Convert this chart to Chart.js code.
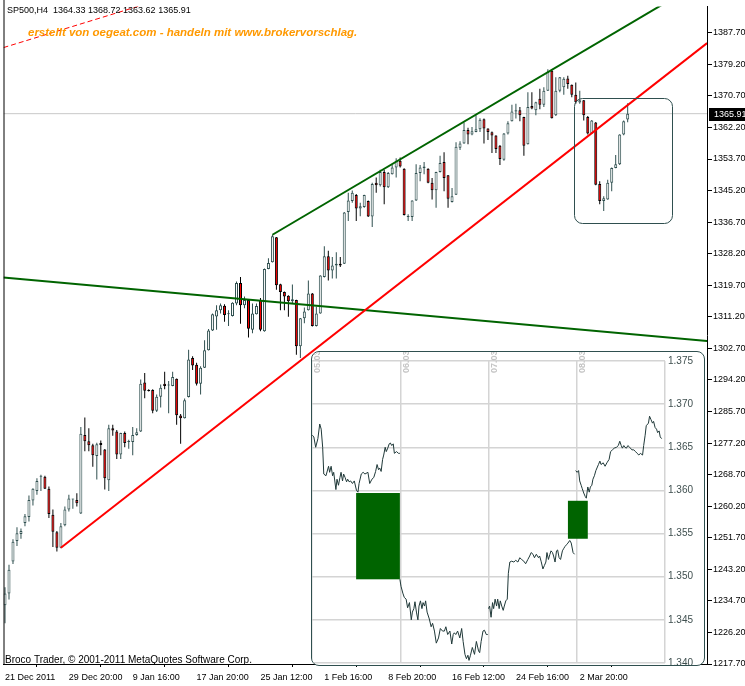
<!DOCTYPE html>
<html>
<head>
<meta charset="utf-8">
<script src="https://cdn.jsdelivr.net/npm/chart.js@4.4.1/dist/chart.umd.min.js"></script>
<style>
  html, body { margin: 0; padding: 0; background: #fff; }
  #wrap { position: relative; width: 745px; height: 686px; overflow: hidden; }
  #main { position: absolute; left: 0; top: 0; }
  #inset {
    position: absolute; left: 311px; top: 351px; width: 394px; height: 315px;
    box-sizing: border-box; border: 1px solid #2F4F4F; border-radius: 8px;
    overflow: hidden; background: #fff;
  }
  #insetCanvas { position: absolute; left: 0; top: 0; }
</style>
</head>
<body>
<div id="wrap">
  <canvas id="main" width="745" height="686"></canvas>
  <div id="inset"><canvas id="insetCanvas" width="392" height="320"></canvas></div>
</div>
<script>
// SP500 H4 candles (index 0 = 21 Dec 2011)
const opens = [1233.5,1236.7,1245.3,1250.8,1252.7,1255.7,1257.3,1261.7,1264.3,1268.1,
  1268.1,1264.9,1257.9,1253.2,1249.0,1255.1,1259.3,1262.0,1261.9,1258.2,
  1279.4,1277.7,1276.6,1273.7,1277.2,1275.5,1267.2,1281.2,1280.3,1274.1,
  1279.9,1277.5,1277.5,1279.4,1280.3,1293.5,1291.5,1291.5,1285.9,1289.7,
  1293.2,1292.7,1292.6,1294.5,1284.6,1283.9,1289.6,1300.1,1298.3,1293.2,
  1297.5,1302.2,1307.5,1311.3,1313.0,1314.2,1311.9,1311.4,1314.8,1320.3,
  1314.3,1315.7,1307.7,1311.9,1315.7,1307.3,1324.1,1325.9,1332.6,1320.0,
  1317.9,1316.9,1315.4,1315.7,1303.3,1310.8,1313.0,1317.5,1308.7,1312.1,
  1321.9,1327.5,1323.7,1325.0,1325.5,1325.5,1339.4,1342.4,1344.0,1340.4,
  1340.8,1342.4,1338.2,1347.3,1346.6,1350.2,1346.1,1349.6,1351.4,1353.2,
  1351.1,1338.1,1338.1,1342.5,1349.9,1351.3,1351.1,1347.3,1345.3,1350.2,
  1352.9,1349.3,1342.1,1344.1,1356.7,1357.9,1361.5,1360.3,1361.0,1361.7,
  1364.4,1361.9,1360.9,1360.0,1357.3,1353.5,1360.6,1363.9,1366.5,1366.8,
  1365.0,1357.7,1368.0,1366.8,1369.9,1368.3,1372.1,1377.5,1365.5,1372.1,
  1373.0,1375.4,1373.7,1371.0,1368.9,1369.5,1365.0,1360.6,1363.5,1347.0,
  1342.4,1342.8,1347.3,1351.3,1352.3,1360.3,1364.33];
const highs = [1238.4,1244.4,1251.3,1254.5,1254.2,1258.1,1263.1,1265.0,1267.7,1268.7,
  1268.4,1265.5,1259.3,1253.5,1255.7,1260.1,1263.3,1262.2,1263.7,1281.5,
  1284.1,1281.2,1277.0,1277.3,1277.9,1275.6,1282.1,1282.1,1280.7,1280.0,
  1280.3,1278.1,1281.5,1281.2,1294.3,1296.1,1291.7,1291.7,1290.3,1293.0,
  1296.4,1293.9,1296.4,1294.6,1285.0,1289.2,1302.3,1300.6,1298.8,1297.9,
  1304.9,1307.9,1312.1,1314.3,1314.8,1314.6,1313.0,1315.1,1320.7,1321.9,
  1316.7,1315.8,1314.8,1314.8,1316.3,1324.2,1327.0,1333.3,1332.7,1320.1,
  1318.0,1317.0,1319.9,1315.8,1310.9,1313.7,1321.0,1317.6,1313.9,1322.4,
  1330.2,1329.0,1327.3,1328.6,1327.3,1339.4,1344.6,1345.2,1344.3,1341.9,
  1344.1,1342.5,1347.3,1348.7,1350.8,1350.8,1350.2,1352.1,1353.9,1354.1,
  1351.2,1338.8,1342.6,1352.3,1352.1,1352.9,1351.2,1348.6,1350.3,1354.6,
  1355.5,1349.4,1345.9,1358.2,1358.5,1363.5,1362.1,1362.3,1365.5,1364.7,
  1364.6,1362.0,1361.1,1360.1,1357.5,1360.7,1363.9,1368.3,1368.6,1367.7,
  1365.1,1371.7,1371.7,1369.1,1372.6,1373.0,1377.9,1377.9,1375.7,1375.8,
  1375.7,1376.1,1373.8,1374.3,1372.1,1369.6,1365.3,1364.2,1363.7,1347.7,
  1343.7,1348.1,1351.4,1354.8,1360.4,1364.1,1368.72];
const lows = [1228.7,1235.1,1244.6,1249.5,1251.4,1254.8,1256.1,1260.4,1263.3,1264.3,
  1264.8,1257.0,1249.2,1248.0,1248.9,1254.8,1258.8,1259.5,1260.1,1258.1,
  1275.0,1275.0,1270.8,1267.4,1273.9,1264.7,1264.3,1279.2,1272.9,1272.9,
  1276.1,1275.7,1273.9,1279.2,1280.2,1289.3,1291.1,1285.2,1285.6,1286.8,
  1291.7,1285.2,1292.5,1282.1,1277.0,1283.8,1289.5,1296.9,1292.7,1290.3,
  1297.4,1302.1,1307.4,1307.7,1312.1,1309.9,1308.7,1311.3,1314.3,1309.3,
  1313.5,1305.6,1306.8,1311.8,1307.3,1307.2,1324.0,1325.8,1318.5,1313.0,
  1313.0,1311.2,1314.8,1301.0,1300.1,1309.5,1312.9,1308.6,1308.6,1312.0,
  1321.8,1321.0,1321.5,1321.5,1324.6,1325.4,1337.0,1341.9,1337.0,1338.3,
  1340.6,1338.1,1335.4,1344.6,1346.3,1341.5,1345.9,1349.5,1348.7,1351.4,
  1338.5,1337.0,1337.0,1342.4,1347.7,1349.6,1347.2,1342.8,1340.6,1350.1,
  1345.0,1340.6,1342.0,1344.0,1356.1,1357.8,1357.7,1360.1,1360.9,1361.0,
  1357.9,1358.8,1355.3,1355.3,1352.1,1353.2,1360.3,1363.8,1364.6,1363.9,
  1354.6,1357.6,1367.1,1365.5,1367.1,1367.7,1372.0,1364.6,1365.3,1371.7,
  1371.0,1372.6,1370.3,1368.6,1368.6,1364.1,1360.3,1360.5,1346.6,1341.5,
  1339.7,1342.7,1345.0,1351.2,1352.1,1360.1,1363.62];
const closes = [1236.7,1243.1,1250.6,1252.9,1253.5,1257.5,1261.9,1264.9,1267.0,1268.2,
  1264.9,1258.1,1253.3,1249.0,1254.8,1259.3,1262.3,1262.1,1261.0,1279.7,
  1277.7,1276.6,1273.9,1276.9,1276.7,1267.7,1281.2,1280.6,1274.1,1279.9,
  1277.2,1277.6,1279.4,1280.1,1293.2,1291.3,1291.2,1285.9,1289.7,1292.1,
  1292.6,1292.8,1295.0,1284.7,1283.9,1288.7,1299.7,1298.1,1293.2,1297.5,
  1302.2,1307.5,1311.9,1313.0,1314.3,1311.7,1312.0,1315.0,1320.3,1314.3,
  1315.7,1308.0,1312.1,1314.1,1307.7,1324.1,1325.7,1332.9,1319.7,1317.9,
  1316.7,1315.4,1315.9,1303.3,1310.8,1312.6,1317.5,1308.7,1312.1,1322.3,
  1327.5,1323.7,1325.0,1325.5,1325.0,1339.3,1342.5,1344.6,1340.4,1341.0,
  1344.0,1338.2,1347.0,1346.6,1350.2,1346.1,1349.9,1351.4,1353.2,1351.7,
  1338.6,1338.2,1342.5,1349.9,1351.4,1351.7,1347.3,1345.3,1350.2,1352.6,
  1348.6,1343.0,1343.7,1357.0,1357.9,1361.5,1360.3,1361.2,1361.7,1364.3,
  1361.9,1361.0,1360.0,1356.4,1353.7,1360.6,1363.3,1366.5,1366.8,1365.5,
  1357.3,1367.7,1367.3,1369.0,1368.3,1372.1,1377.2,1364.7,1372.1,1375.7,
  1375.3,1373.9,1371.0,1369.0,1369.5,1365.5,1360.6,1364.1,1346.8,1342.4,
  1343.1,1347.3,1351.3,1352.3,1360.3,1363.9,1365.91];

const symbol = 'SP500,H4';
const xTickIdx = [0, 16, 32, 48, 64, 80, 96, 112, 128, 144];
const xTickLabels = ['21 Dec 2011', '29 Dec 20:00', '9 Jan 16:00', '17 Jan 20:00', '25 Jan 12:00',
  '1 Feb 16:00', '8 Feb 20:00', '16 Feb 12:00', '24 Feb 16:00', '2 Mar 20:00'];
const yTicks = [1217.7, 1226.2, 1234.7, 1243.2, 1251.7, 1260.2, 1268.7, 1277.2, 1285.7, 1294.2,
  1302.7, 1311.2, 1319.7, 1328.2, 1336.7, 1345.2, 1353.7, 1362.2, 1370.7, 1379.2, 1387.7];

// drawn objects, in bar index / price
const channelTop = [[67, 1333.3], [175.9, 1402.4]];
const channelBottom = [[14, 1249.0], [175.9, 1384.9]];
const longLine = [[-0.4, 1321.8], [175.9, 1304.7]];
const dashLine = [[-0.4, 1383.7], [40, 1397.0]];
const zoomBox = [142.45, 167.05, 1336.4, 1370.2];

const watermark = 'erstellt von oegeat.com - handeln mit www.brokervorschlag.';
const copyright = 'Broco Trader, \u00A9 2001-2011 MetaQuotes Software Corp.';

// inset: hours since 05.03 00:00, price
const insetDay1 = [[0.1,1.3664],[0.5,1.3662],[1.0,1.3650],[1.6,1.3660],[2.1,1.3677],[2.5,1.3671],[2.9,1.3650],[3.2,1.3619],[3.8,1.3617],[4.5,1.3628],[4.8,1.3621],[5.2,1.3628],[5.6,1.3617],[5.9,1.3621],[6.5,1.3601],[6.8,1.3613],[7.2,1.3606],[7.6,1.3615],[7.9,1.3621],[8.3,1.3611],[8.6,1.3619],[9.0,1.3615],[9.4,1.3610],[9.7,1.3613],[10.1,1.3610],[10.5,1.3611],[11.0,1.3608],[11.5,1.3611],[12.1,1.3600],[12.5,1.3598],[12.8,1.3608],[13.4,1.3619],[13.9,1.3621],[14.4,1.3619],[15.2,1.3621],[15.7,1.3608],[16.3,1.3613],[16.8,1.3615],[17.3,1.3622],[17.7,1.3630],[18.1,1.3624],[18.4,1.3626],[18.8,1.3622],[19.2,1.3636],[19.5,1.3641],[19.9,1.3650],[20.2,1.3645],[20.6,1.3649],[21.0,1.3654],[21.3,1.3655],[21.7,1.3652],[22.1,1.3654],[22.4,1.3643],[23.0,1.3645],[23.5,1.3643],[23.9,1.3643]];
const insetDay2 = [[23.9,1.3497],[24.2,1.3489],[24.7,1.3481],[25.1,1.3476],[25.6,1.3474],[26.0,1.3464],[26.5,1.3470],[27.0,1.3450],[27.3,1.3459],[27.7,1.3463],[28.0,1.3471],[28.4,1.3459],[28.8,1.3450],[29.1,1.3466],[29.5,1.3472],[29.9,1.3463],[30.2,1.3470],[30.6,1.3466],[30.9,1.3472],[31.3,1.3459],[31.9,1.3451],[32.4,1.3442],[32.8,1.3446],[33.3,1.3437],[33.8,1.3423],[34.4,1.3429],[34.9,1.3440],[35.5,1.3437],[36.0,1.3437],[36.4,1.3442],[36.9,1.3433],[37.5,1.3437],[38.0,1.3422],[38.4,1.3433],[38.7,1.3435],[39.1,1.3433],[39.6,1.3437],[40.2,1.3429],[40.7,1.3440],[41.1,1.3425],[41.6,1.3410],[42.0,1.3405],[42.4,1.3409],[42.7,1.3403],[43.1,1.3409],[43.6,1.3418],[44.2,1.3410],[44.7,1.3425],[45.3,1.3414],[45.6,1.3412],[46.0,1.3425],[46.5,1.3437],[46.9,1.3438],[47.4,1.3433],[47.8,1.3433]];
const insetDay3 = [[48.0,1.3463],[48.3,1.3466],[48.7,1.3453],[49.1,1.3470],[49.4,1.3463],[49.8,1.3474],[50.2,1.3466],[50.5,1.3474],[50.9,1.3463],[51.2,1.3472],[51.6,1.3466],[52.0,1.3461],[52.3,1.3466],[52.7,1.3472],[53.1,1.3474],[53.4,1.3504],[53.8,1.3517],[54.3,1.3518],[54.9,1.3517],[55.4,1.3519],[56.0,1.3517],[56.5,1.3522],[57.0,1.3520],[57.6,1.3518],[58.1,1.3515],[58.7,1.3520],[59.2,1.3524],[59.6,1.3528],[60.1,1.3526],[60.5,1.3522],[61.0,1.3526],[61.6,1.3522],[61.9,1.3524],[62.3,1.3518],[62.8,1.3509],[63.2,1.3513],[63.6,1.3517],[63.9,1.3528],[64.3,1.3520],[64.7,1.3526],[65.0,1.3530],[65.4,1.3528],[65.7,1.3524],[66.1,1.3517],[66.5,1.3530],[66.8,1.3531],[67.2,1.3522],[67.6,1.3520],[68.1,1.3530],[68.5,1.3533],[68.8,1.3535],[69.2,1.3537],[69.6,1.3539],[70.1,1.3542],[70.5,1.3539],[71.0,1.3528],[71.4,1.3526]];
const insetDay4 = [[71.7,1.3623],[72.1,1.3621],[72.5,1.3623],[72.8,1.3611],[73.2,1.3606],[73.5,1.3602],[73.9,1.3597],[74.3,1.3593],[74.6,1.3591],[75.0,1.3604],[75.4,1.3598],[75.7,1.3604],[76.1,1.3606],[76.4,1.3613],[76.8,1.3617],[77.2,1.3623],[77.5,1.3626],[77.9,1.3630],[78.3,1.3634],[78.6,1.3630],[79.2,1.3632],[79.7,1.3628],[80.2,1.3632],[80.8,1.3636],[81.2,1.3645],[81.7,1.3647],[82.2,1.3649],[82.8,1.3650],[83.3,1.3652],[83.7,1.3657],[84.1,1.3652],[84.4,1.3649],[84.8,1.3652],[85.1,1.3650],[85.5,1.3649],[85.9,1.3652],[86.4,1.3650],[87.0,1.3647],[87.5,1.3647],[88.0,1.3645],[88.4,1.3643],[88.9,1.3641],[89.3,1.3643],[89.9,1.3641],[90.2,1.3652],[90.6,1.3664],[90.9,1.3675],[91.5,1.3678],[91.8,1.3686],[92.2,1.3682],[92.6,1.3678],[92.9,1.3680],[93.3,1.3673],[93.7,1.3671],[94.0,1.3667],[94.4,1.3669],[94.7,1.3662],[95.1,1.3660]];
const insetGaps = [[12.0, 23.9, 1.3497, 1.3597], [69.6, 75.0, 1.3544, 1.3588]];
const insetDayLabels = ['05.03', '06.03', '07.03', '08.03'];
const insetDayStarts = [0, 24, 48, 72, 96];
const insetYTicks = [1.340, 1.345, 1.350, 1.355, 1.360, 1.365, 1.370, 1.375];

const FONT = "'Liberation Sans', Arial, sans-serif";
const SLATE = '#2F4F4F';
const xMin = -0.375, xMax = 175.875;

const idx = opens.map((_, i) => i);
const bull = idx.map(i => closes[i] >= opens[i]);
const last = opens.length - 1;
const pts = arr => arr.map(p => ({x: p[0], y: p[1]}));

function roundRectPath(ctx, x, y, w, h, r) {
  ctx.beginPath();
  ctx.moveTo(x + r, y);
  ctx.arcTo(x + w, y, x + w, y + h, r);
  ctx.arcTo(x + w, y + h, x, y + h, r);
  ctx.arcTo(x, y + h, x, y, r);
  ctx.arcTo(x, y, x + w, y, r);
  ctx.closePath();
}

const overlay = {
  id: 'overlay',
  afterDatasetsDraw(chart) {
    const {ctx, chartArea: a, scales: {x, y}} = chart;
    ctx.save();
    // box round the last swing
    const bx0 = Math.round(x.getPixelForValue(zoomBox[0])) + 0.5;
    const bx1 = Math.round(x.getPixelForValue(zoomBox[1])) + 0.5;
    const by0 = Math.round(y.getPixelForValue(zoomBox[3])) + 0.5;
    const by1 = Math.round(y.getPixelForValue(zoomBox[2])) + 0.5;
    ctx.strokeStyle = SLATE;
    ctx.lineWidth = 1;
    roundRectPath(ctx, bx0, by0, bx1 - bx0, by1 - by0, 8);
    ctx.stroke();
    // left frame
    ctx.strokeStyle = '#000';
    ctx.beginPath();
    ctx.moveTo(a.left + 0.5, 0);
    ctx.lineTo(a.left + 0.5, a.bottom);
    ctx.stroke();
    // texts
    ctx.textBaseline = 'middle';
    ctx.textAlign = 'left';
    ctx.fillStyle = '#000';
    ctx.font = '9px ' + FONT;
    const ohlc = [opens[last], highs[last], lows[last], closes[last]].map(v => v.toFixed(2)).join(' ');
    ctx.fillText(symbol + '  ' + ohlc, 7, 11);
    ctx.font = '10px ' + FONT;
    ctx.fillText(copyright, 5, 660);
    ctx.fillStyle = '#FF9900';
    ctx.font = 'italic bold 11.5px ' + FONT;
    ctx.fillText(watermark, 28, 33);
    ctx.restore();
  },
  afterDraw(chart) {
    const {ctx, chartArea: a, scales: {y}} = chart;
    const py = y.getPixelForValue(closes[last]);
    ctx.save();
    ctx.fillStyle = '#000';
    ctx.fillRect(a.right + 2, Math.round(py) - 6, 745 - a.right - 2, 13);
    ctx.fillStyle = '#fff';
    ctx.font = '9px ' + FONT;
    ctx.textBaseline = 'middle';
    ctx.textAlign = 'left';
    ctx.fillText(closes[last].toFixed(2), a.right + 7, Math.round(py) + 0.5);
    ctx.restore();
  }
};

new Chart(document.getElementById('main'), {
  type: 'bar',
  data: {
    datasets: [
      {type: 'line', data: pts(dashLine), borderColor: '#FF0000', borderWidth: 1, borderDash: [5, 3], pointRadius: 0, order: 0},
      {type: 'line', data: pts(channelTop), borderColor: '#006400', borderWidth: 2, pointRadius: 0, order: 0},
      {type: 'line', data: pts(channelBottom), borderColor: '#FF0000', borderWidth: 2, pointRadius: 0, order: 0},
      {type: 'line', data: pts(longLine), borderColor: '#006400', borderWidth: 2, pointRadius: 0, order: 0},
      {
        data: idx.map(i => ({x: i, y: [opens[i], closes[i]]})),
        backgroundColor: idx.map(i => bull[i] ? '#FFFFFF' : '#FF0000'),
        borderColor: idx.map(i => bull[i] ? SLATE : '#000000'),
        borderWidth: 1, borderSkipped: false, barThickness: 3, minBarLength: 1,
        grouped: false, inflateAmount: 0, order: 1
      },
      {
        data: idx.map(i => ({x: i, y: [lows[i], highs[i]]})),
        backgroundColor: idx.map(i => bull[i] ? SLATE : '#000000'),
        borderWidth: 0, barThickness: 1, grouped: false, inflateAmount: 0, order: 2
      },
      {type: 'line', data: [{x: xMin, y: closes[last]}, {x: xMax, y: closes[last]}], borderColor: '#C8C8C8', borderWidth: 1, pointRadius: 0, order: 3}
    ]
  },
  options: {
    responsive: false,
    animation: false,
    devicePixelRatio: 1,
    layout: {padding: {left: 2, top: 0, right: 0, bottom: 0}},
    plugins: {legend: {display: false}, tooltip: {enabled: false}},
    scales: {
      x: {
        type: 'linear', min: xMin, max: xMax, offset: false,
        grid: {display: true, drawOnChartArea: false, drawTicks: true, tickLength: 3, color: '#000'},
        border: {display: true, color: '#000', width: 1},
        ticks: {
          align: 'start', maxRotation: 0, autoSkip: false, padding: 5, color: '#000',
          font: {family: FONT, size: 9},
          callback: (v, i) => xTickLabels[i]
        },
        afterBuildTicks: s => { s.ticks = xTickIdx.map(v => ({value: v})); },
        afterFit: s => { s.height = 22; }
      },
      y: {
        type: 'linear', position: 'right', min: 1217.7, max: 1394.8, beginAtZero: false,
        grid: {display: true, drawOnChartArea: false, drawTicks: true, tickLength: 5, color: '#000'},
        border: {display: true, color: '#000', width: 1},
        ticks: {
          autoSkip: false, padding: 1, color: '#000',
          font: {family: FONT, size: 9},
          callback: v => v.toFixed(2)
        },
        afterBuildTicks: s => { s.ticks = yTicks.map(v => ({value: v})); },
        afterFit: s => { s.width = 38; }
      }
    }
  },
  plugins: [overlay]
});

const insetMarks = {
  id: 'insetMarks',
  beforeDatasetsDraw(chart) {
    const {ctx, scales: {x, y}} = chart;
    ctx.save();
    ctx.fillStyle = '#006400';
    insetGaps.forEach(g => {
      const x0 = x.getPixelForValue(g[0]), x1 = x.getPixelForValue(g[1]);
      const y0 = y.getPixelForValue(g[3]), y1 = y.getPixelForValue(g[2]);
      ctx.fillRect(x0, y0, x1 - x0, y1 - y0);
    });
    ctx.fillStyle = '#C4C4C4';
    ctx.font = 'bold 9px ' + FONT;
    ctx.textAlign = 'left';
    ctx.textBaseline = 'middle';
    insetDayLabels.forEach((t, i) => {
      ctx.save();
      ctx.translate(x.getPixelForValue(insetDayStarts[i]) + 6, 21);
      ctx.rotate(-Math.PI / 2);
      ctx.fillText(t, 0, 0);
      ctx.restore();
    });
    ctx.restore();
  }
};

new Chart(document.getElementById('insetCanvas'), {
  type: 'line',
  data: {
    datasets: [insetDay1, insetDay2, insetDay3, insetDay4].map(d => ({
      data: pts(d), borderColor: '#1F3838', borderWidth: 1, pointRadius: 0, tension: 0
    }))
  },
  options: {
    responsive: false,
    animation: false,
    devicePixelRatio: 1,
    layout: {padding: {left: 0, top: 0, right: 0, bottom: 6}},
    plugins: {legend: {display: false}, tooltip: {enabled: false}},
    scales: {
      x: {
        type: 'linear', min: 0, max: 96,
        grid: {color: '#D4D4D4', lineWidth: 1.5, drawTicks: false},
        border: {display: false},
        ticks: {display: false},
        afterBuildTicks: s => { s.ticks = insetDayStarts.map(v => ({value: v})); },
        afterFit: s => { s.height = 0; }
      },
      y: {
        type: 'linear', position: 'right', min: 1.340, max: 1.375,
        grid: {color: '#D4D4D4', lineWidth: 1.5, drawTicks: false},
        border: {display: false},
        ticks: {padding: 3, color: '#3F4F4F', font: {family: FONT, size: 10}, callback: v => v.toFixed(3)},
        afterBuildTicks: s => { s.ticks = insetYTicks.map(v => ({value: v})); },
        afterFit: s => { s.width = 39; }
      }
    }
  },
  plugins: [insetMarks]
});
</script>
</body>
</html>
